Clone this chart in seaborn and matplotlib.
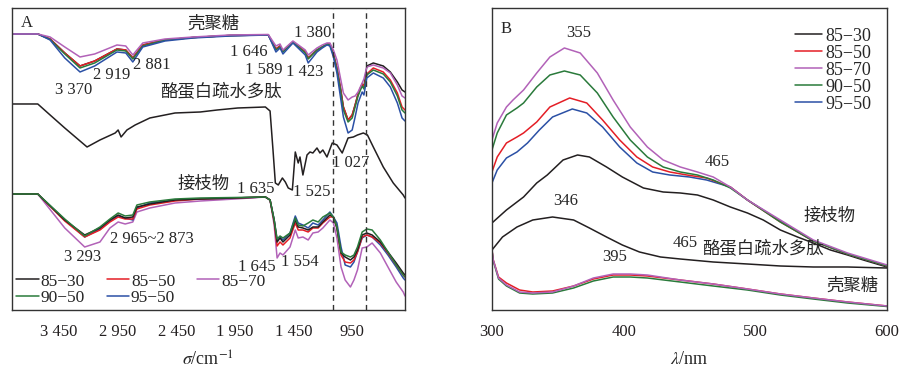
import pandas as pd
import matplotlib
matplotlib.use("Agg")
import matplotlib.pyplot as plt
from matplotlib.lines import Line2D
import seaborn as sns

# ---------- panel A: FTIR (wavenumber, arbitrary transmittance) ----------
samples = ["85−30", "85−50", "85−70", "90−50", "95−50"]
colors = {"85−30": "#231f20", "85−50": "#e41e26", "85−70": "#b262b8",
          "90−50": "#2a7a3b", "95−50": "#2b50a5"}

cs_wn = [3850, 3630, 3525, 3400, 3270, 3145, 2955, 2880, 2820, 2735,
         2545, 2305, 1990, 1665, 1600, 1565, 1540, 1455, 1350, 1325,
         1250, 1205, 1165, 1140, 1110, 1080, 1050, 1025, 985, 950,
         925, 900, 865, 850, 825, 770, 685, 625, 565, 525, 500]
cs_8530 = [276, 276, 271, 257, 244, 249, 261, 260, 252, 265,
           270, 272.5, 274.5, 275, 261, 264, 259, 268, 258, 252,
           260, 263, 266, 266, 256, 242, 222, 203, 190, 195,
           205, 216, 226, 223, 244, 247, 244, 238, 228, 220, 218]
cs_8550 = [276, 276, 271, 257, 244, 249, 261, 260, 252, 265,
           270, 272.5, 274.5, 275, 261, 264, 259, 268, 258, 252,
           260, 263, 266, 266, 256, 242, 222, 203, 190, 195,
           205, 216, 226, 223, 236, 242, 238, 230, 217, 203, 200]
cs_8570 = [276, 276, 273, 263, 253, 256, 265, 264, 255, 267,
           271, 273, 275, 275.5, 264, 266, 260, 269, 260, 255,
           262, 265, 267, 267, 260, 250, 232, 217, 210, 213,
           214, 218, 227, 231, 243, 245, 242, 237, 225, 214, 212]
cs_9050 = [276, 276, 270.5, 256, 242, 247, 260, 259, 251, 264,
           270, 272.5, 274.5, 275, 260, 263, 258, 268, 257, 251,
           260, 263, 266, 265, 255, 240, 220, 200, 188, 192,
           203, 214, 224, 221, 235, 240, 236, 228, 214, 200, 197]
cs_9550 = [276, 276, 270, 252, 238, 244, 258, 257, 248, 263,
           269, 272, 274, 275, 258, 262, 256, 267, 255, 247,
           258, 262, 265, 264, 253, 237, 213, 193, 177, 180,
           193, 207, 218, 215, 232, 237, 232, 223, 207, 192, 189]

cp_wn = [3850, 3630, 3525, 3400, 3210, 3100, 2970, 2945, 2920, 2870,
         2800, 2675, 2460, 2245, 2100, 1925, 1690, 1650, 1625, 1605,
         1580, 1545, 1520, 1495, 1460, 1435, 1410, 1395, 1370, 1335,
         1310, 1285, 1250, 1225, 1200, 1165, 1120, 1080, 1035, 985,
         940, 905, 855, 820, 770, 685, 600, 515, 500]
cp_t = [206, 206, 195, 182, 163, 170, 177, 180, 173, 180,
        185, 192, 197, 198, 200, 202, 203, 199, 160, 127,
        125, 132, 128, 122, 120, 158, 147, 153, 135, 155,
        158, 157, 162, 157, 160, 153, 167, 165, 157, 172,
        173, 175, 177, 175, 163, 143, 127, 115, 112]

gr_wn = [3850, 3630, 3400, 3230, 3100, 3015, 2945, 2885, 2820, 2785,
         2675, 2460, 2245, 1950, 1690, 1650, 1615, 1590, 1565, 1540,
         1480, 1435, 1410, 1370, 1325, 1285, 1240, 1200, 1140, 1110,
         1080, 1045, 1010, 965, 935, 905, 865, 825, 780, 710,
         645, 575, 515, 500]
gr_8530 = [116, 116, 90, 75, 82, 90, 95, 92, 93, 103,
           106, 110, 111, 112, 113, 110, 90, 68, 72, 68,
           75, 90, 83, 82, 80, 83, 83, 88, 95, 93,
           82, 57, 53, 50, 53, 60, 75, 77, 75, 68,
           58, 47, 37, 35]
gr_8550 = [116, 116, 89, 73, 80, 88, 93, 91, 91, 101,
           105, 109, 111, 112, 113, 110, 88, 64, 68, 65,
           72, 87, 80, 80, 78, 82, 82, 87, 93, 93,
           82, 55, 48, 47, 50, 58, 73, 75, 73, 67,
           57, 45, 35, 33]
gr_8570 = [116, 116, 82, 63, 68, 82, 88, 86, 88, 98,
           102, 107, 109, 111, 113, 110, 85, 52, 57, 55,
           63, 80, 72, 73, 70, 77, 78, 82, 90, 87,
           72, 43, 30, 23, 30, 40, 62, 63, 67, 57,
           43, 28, 18, 14]
gr_9050 = [116, 116, 91, 74, 83, 91, 97, 94, 95, 105,
           108, 111, 112, 112.5, 113, 110, 90, 71, 74, 72,
           77, 92, 85, 84, 87, 90, 88, 93, 97, 93,
           83, 58, 55, 53, 55, 63, 78, 81, 80, 70,
           58, 45, 35, 33]
gr_9550 = [116, 116, 90, 73, 81, 89, 94, 92, 90, 102,
           107, 110, 111, 112, 113, 110, 90, 70, 73, 70,
           77, 94, 87, 85, 82, 87, 85, 90, 98, 93,
           87, 63, 45, 43, 48, 58, 72, 75, 73, 65,
           55, 43, 32, 30]

dash_wn = [1110, 830]
a_ticks = [3450, 2950, 2450, 1950, 1450, 950]
a_ticklabels = ["3 450", "2 950", "2 450", "1 950", "1 450", "950"]

# ---------- panel B: fluorescence (wavelength, intensity) ----------
b_wl_8570 = [300, 304, 311, 316, 324, 334, 344, 355, 367, 380, 392, 405,
             418, 430, 443, 456, 468, 481, 494, 519, 544, 570, 600]
b_8570 = [170, 187, 203, 210, 220, 237, 253, 262, 257, 237, 210, 183,
          163, 150, 143, 138, 133, 123, 110, 90, 70, 57, 45]
b_wl_9050 = [300, 304, 311, 319, 324, 334, 344, 355, 367, 380, 392, 405,
             418, 430, 443, 456, 468, 481, 494, 519, 544, 570, 600]
b_9050 = [160, 177, 195, 202, 207, 223, 235, 239, 235, 217, 193, 170,
          153, 143, 138, 135, 130, 122, 110, 88, 69, 56, 44]
b_wl_8550 = [300, 304, 311, 319, 324, 334, 344, 359, 372, 384, 397, 410,
             422, 435, 448, 463, 481, 494, 519, 544, 570, 600]
b_8550 = [138, 153, 167, 173, 177, 188, 203, 212, 207, 190, 170, 153,
          143, 138, 135, 132, 123, 110, 88, 69, 56, 44]
b_wl_9550 = [300, 304, 311, 319, 327, 336, 346, 361, 372, 384, 397, 410,
             422, 435, 450, 463, 481, 494, 519, 544, 570, 600]
b_9550 = [127, 140, 152, 158, 167, 180, 193, 201, 197, 183, 163, 147,
          138, 135, 133, 130, 123, 110, 89, 69, 56, 44]
b_wl_8530 = [300, 311, 324, 329, 334, 342, 354, 365, 374, 387, 399, 415,
             430, 443, 456, 468, 481, 494, 506, 519, 532, 544, 557, 570,
             582, 600]
b_8530 = [87, 100, 113, 120, 127, 135, 150, 155, 153, 143, 133, 122,
          118, 117, 115, 110, 103, 97, 90, 80, 73, 67, 60, 55,
          50, 43]
b_wl_cp = [300, 308, 319, 331, 346, 362, 374, 387, 399, 412, 428, 443,
           468, 494, 519, 544, 570, 600]
b_cp = [60, 73, 83, 90, 93, 90, 82, 73, 65, 58, 53, 51,
        48, 46, 44, 43, 43, 42]
b_wl_cs = [300, 301, 305, 311, 321, 331, 346, 362, 377, 392, 405, 418,
           443, 468, 494, 519, 544, 570, 600]
b_cs_8550 = [60, 50, 33, 27, 20, 18, 19, 24, 31, 35, 35, 34,
             30, 26, 21, 16, 12, 8, 4]
b_cs_8570 = [60, 50, 32, 25, 18, 17, 18, 24, 32, 36, 36, 35,
             30, 26, 21, 16, 12, 8, 4]
b_cs_9050 = [60, 49, 31, 24, 17, 16, 17, 22, 29, 33, 33, 32,
             28, 24, 20, 15, 11, 7, 3.5]
b_ticks = [300, 400, 500, 600]


def long_frame(x, series):
    rows = []
    for name, ys in series.items():
        rows.append(pd.DataFrame({"x": x, "y": ys, "sample": name}))
    return pd.concat(rows, ignore_index=True)


sns.set_style("white")
plt.rcParams["font.family"] = ["Liberation Serif", "Noto Sans CJK SC"]
plt.rcParams["mathtext.fontset"] = "stix"
plt.rcParams["axes.edgecolor"] = "#333333"
plt.rcParams["axes.linewidth"] = 1.0

fig = plt.figure(figsize=(9.07, 3.73), dpi=100)
axA = fig.add_axes([0.0132, 0.1689, 0.4333, 0.8097])
axB = fig.add_axes([0.5424, 0.1689, 0.4356, 0.8097])

cjk = ["Liberation Serif", "Noto Sans CJK SC"]
lw = 1.1

# panel A curves
top = long_frame(cs_wn, {"85−30": cs_8530, "85−50": cs_8550, "90−50": cs_9050,
                         "95−50": cs_9550, "85−70": cs_8570})
bot = long_frame(gr_wn, {"85−70": gr_8570, "95−50": gr_9550, "85−50": gr_8550,
                         "85−30": gr_8530, "90−50": gr_9050})
for df in (top, bot):
    sns.lineplot(data=df, x="x", y="y", hue="sample", palette=colors,
                 sort=False, estimator=None, legend=False, lw=lw, ax=axA)
sns.lineplot(x=cp_wn, y=cp_t, color="#231f20", sort=False, estimator=None,
             lw=lw, ax=axA)
for w in dash_wn:
    axA.axvline(w, color="#333333", lw=1.0, dashes=(4, 3))

axA.set_xlim(3850, 500)
axA.set_ylim(0, 302)
axA.set_xticks(a_ticks)
axA.set_xticklabels(a_ticklabels)
axA.set_yticks([])
axA.tick_params(axis="x", direction="in", length=6, width=1, pad=10,
                labelsize=12, colors="#231f20")
axA.set_xlabel(r"$\sigma$/cm$^{-1}$", fontsize=13, labelpad=8)
axA.set_ylabel("")

txtA = [("A", 3723, 287), ("1 380", 1283, 277), ("1 646", 1829, 258),
        ("1 589", 1701, 240), ("1 423", 1351, 238), ("2 919", 2998, 235),
        ("2 881", 2657, 245), ("3 370", 3322, 220), ("1 027", 959, 147),
        ("1 635", 1769, 121), ("1 525", 1291, 118), ("3 293", 3245, 53),
        ("2 965~2 873", 2657, 71), ("1 645", 1761, 43), ("1 554", 1394, 48)]
for s, x, y in txtA:
    axA.text(x, y, s, ha="center", va="center", fontsize=12, family=cjk)
for s, x, y in [("壳聚糖", 2136, 285), ("酪蛋白疏水多肽", 2068, 218),
                ("接枝物", 2221, 125)]:
    axA.text(x, y, s, ha="center", va="center", fontsize=12.5, family=cjk)

handlesA = [Line2D([], [], color=colors[k], lw=lw) for k in
            ["85−30", "90−50", "85−50", "95−50", "85−70"]]
axA.legend(handlesA, ["85−30", "90−50", "85−50", "95−50", "85−70"],
           ncol=3, loc="lower left", frameon=False, fontsize=12.5,
           handlelength=1.3, handletextpad=0.1, columnspacing=1.25,
           labelspacing=0.0, borderaxespad=0.15, borderpad=0.1)

# panel B curves
graft = pd.concat([
    pd.DataFrame({"x": b_wl_8530, "y": b_8530, "sample": "85−30"}),
    pd.DataFrame({"x": b_wl_9550, "y": b_9550, "sample": "95−50"}),
    pd.DataFrame({"x": b_wl_8550, "y": b_8550, "sample": "85−50"}),
    pd.DataFrame({"x": b_wl_9050, "y": b_9050, "sample": "90−50"}),
    pd.DataFrame({"x": b_wl_8570, "y": b_8570, "sample": "85−70"}),
], ignore_index=True)
sns.lineplot(data=graft, x="x", y="y", hue="sample", palette=colors,
             sort=False, estimator=None, legend=False, lw=lw, ax=axB)
sns.lineplot(x=b_wl_cp, y=b_cp, color="#231f20", sort=False, estimator=None,
             lw=lw, ax=axB)
cs = long_frame(b_wl_cs, {"85−50": b_cs_8550, "90−50": b_cs_9050,
                          "85−70": b_cs_8570})
sns.lineplot(data=cs, x="x", y="y", hue="sample", palette=colors,
             sort=False, estimator=None, legend=False, lw=lw, ax=axB)

axB.set_xlim(300, 600)
axB.set_ylim(0, 302)
axB.set_xticks(b_ticks)
axB.set_yticks([])
axB.tick_params(axis="x", direction="in", length=6, width=1, pad=10,
                labelsize=12, colors="#231f20")
axB.set_xlabel(r"$\lambda$/nm", fontsize=13, labelpad=8)
axB.set_ylabel("")

for s, x, y in [("B", 310.6, 281), ("355", 366, 277), ("465", 471, 148),
                ("346", 356, 109), ("465", 447, 67), ("395", 393, 53)]:
    axB.text(x, y, s, ha="center", va="center", fontsize=12, family=cjk)
for s, x, y in [("接枝物", 556.7, 93), ("酪蛋白疏水多肽", 506, 61),
                ("壳聚糖", 574, 23)]:
    axB.text(x, y, s, ha="center", va="center", fontsize=12.5, family=cjk)

handlesB = [Line2D([], [], color=colors[k], lw=lw) for k in samples]
axB.legend(handlesB, samples, loc="upper right",
           bbox_to_anchor=(0.96, 0.935), frameon=False, fontsize=13,
           handlelength=1.5, handletextpad=0.2, labelspacing=0.0,
           borderaxespad=0.0, borderpad=0.0)

fig.savefig("out.png", dpi=100)
